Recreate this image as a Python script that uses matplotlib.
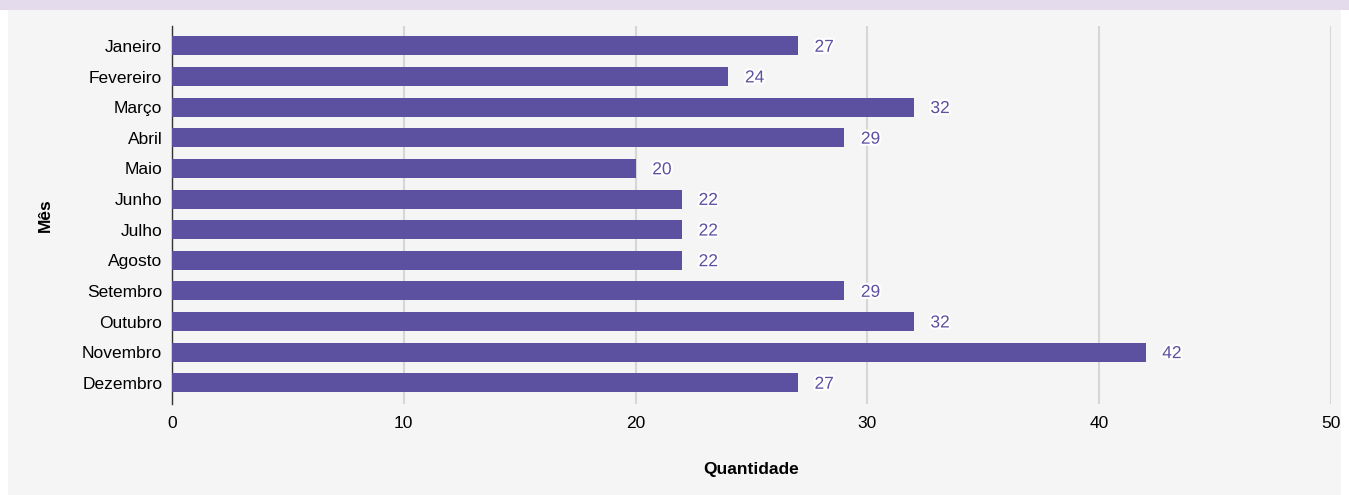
import matplotlib.pyplot as plt
import matplotlib.patheffects as pe
from matplotlib.patches import Rectangle

# ----- dados ----- #
meses = ['Janeiro', 'Fevereiro', 'Março', 'Abril', 'Maio', 'Junho',
         'Julho', 'Agosto', 'Setembro', 'Outubro', 'Novembro', 'Dezembro']
quantidade = [27, 24, 32, 29, 20, 22, 22, 22, 29, 32, 42, 27]
xticks = [0, 10, 20, 30, 40, 50]

plt.rcParams['font.family'] = ['Liberation Sans', 'DejaVu Sans']

cor_barra = '#5c51a1'
fs = 12.5

fig = plt.figure(figsize=(13.49, 4.95), dpi=100, facecolor='white')

# ----- fundo (faixa lilás + painel cinza) ----- #
fig.patches.append(Rectangle((0, 1 - 10 / 495), 1, 10 / 495, transform=fig.transFigure,
                             facecolor='#e4dcec', edgecolor='none', zorder=-2))
fig.patches.append(Rectangle((8 / 1349, 0), (1341 - 8) / 1349, 1 - 10 / 495,
                             transform=fig.transFigure,
                             facecolor='#f5f5f5', edgecolor='none', zorder=-2))

ax = fig.add_axes([172 / 1349, 1 - 404 / 495, (1331 - 172) / 1349, (404 - 26) / 495])
ax.set_facecolor('none')

pos = list(range(len(meses)))
bars = ax.barh(pos, quantidade, height=0.62, color=cor_barra, zorder=3)

for y, v in zip(pos, quantidade):
    ax.annotate(str(v), xy=(v, y), xytext=(12, -1), textcoords='offset points',
                ha='left', va='center', fontsize=fs, color=cor_barra, zorder=4,
                path_effects=[pe.withStroke(linewidth=3, foreground='white')])

ax.set_xlim(0, 50)
ax.set_ylim(11.69, -0.65)
ax.set_xticks(xticks)
ax.set_yticks(pos)
ax.set_yticklabels(meses)
ax.tick_params(axis='both', length=0, labelsize=fs, colors='black')
ax.tick_params(axis='y', pad=7)
ax.tick_params(axis='x', pad=9)

ax.grid(axis='x', color='#d6d6d6', linewidth=1.5, zorder=0)
ax.set_axisbelow(True)
for s in ['top', 'right', 'bottom']:
    ax.spines[s].set_visible(False)
ax.spines['left'].set_color('#333333')
ax.spines['left'].set_linewidth(1)

ax.set_xlabel('Quantidade', fontsize=fs, fontweight='bold', labelpad=22)
ax.set_ylabel('Mês', fontsize=fs, fontweight='bold', labelpad=21)

fig.savefig('out.png', dpi=100, facecolor=fig.get_facecolor())
